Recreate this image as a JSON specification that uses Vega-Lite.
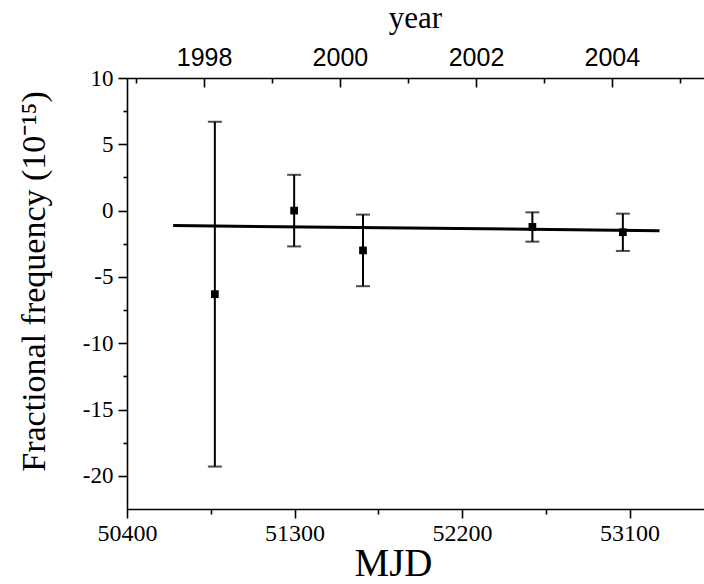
{
  "$schema": "https://vega.github.io/schema/vega-lite/v6.json",
  "autosize": {"type": "none"},
  "width": 577,
  "height": 431,
  "padding": {"left": 127, "top": 78, "right": 0, "bottom": 75},
  "background": "white",
  "config": {
    "view": {"stroke": null},
    "axis": {"grid": false, "labelFlush": false, "labelOverlap": false, "domainColor": "black", "tickColor": "black", "labelColor": "black", "titleColor": "black", "domainWidth": 1.6, "tickWidth": 1.6, "titleFontWeight": "normal"},
    "axisLeft": {"labelFont": "Liberation Serif", "labelFontSize": 22},
    "axisBottom": {"labelFont": "Liberation Serif", "labelFontSize": 23},
    "axisTop": {"labelFont": "Liberation Sans", "labelFontSize": 25}
  },
  "datasets": {
    "pts": [
      {"mjd": 50872, "freq": -6.3, "lo": -19.3, "hi": 6.7},
      {"mjd": 51298, "freq": 0.0, "lo": -2.7, "hi": 2.7},
      {"mjd": 51668, "freq": -3.0, "lo": -5.7, "hi": -0.3},
      {"mjd": 52578, "freq": -1.23, "lo": -2.34, "hi": -0.13},
      {"mjd": 53064, "freq": -1.63, "lo": -3.04, "hi": -0.23}
    ],
    "fit": [
      {"mjd": 50648, "freq": -1.13},
      {"mjd": 53261, "freq": -1.51}
    ]
  },
  "resolve": {"axis": {"x": "independent", "y": "independent"}},
  "layer": [
    {
      "data": {"name": "pts"},
      "mark": {"type": "rule", "color": "black", "strokeWidth": 2},
      "encoding": {
        "x": {"field": "mjd", "type": "quantitative", "scale": {"domain": [50400, 53500], "nice": false, "zero": false},
          "axis": {"orient": "bottom", "values": [50400, 51300, 52200, 53100], "format": "d", "labelFlush": false, "tickSize": 9, "labelPadding": 3, "labelFont": "Liberation Serif, Times New Roman, serif", "labelFontSize": 24, "title": "MJD", "titleFont": "Liberation Serif", "titleFontSize": 39, "titleX": 266, "titleY": 66, "titleBaseline": "alphabetic", "titleAlign": "center"}},
        "y": {"field": "lo", "type": "quantitative", "scale": {"domain": [-22.5, 10], "nice": false, "zero": false},
          "axis": {"orient": "left", "values": [-20, -15, -10, -5, 0, 5, 10], "labelExpr": "'' + datum.value", "labelFlush": false, "tickSize": 9, "labelPadding": 5, "labelFont": "Liberation Serif, Times New Roman, serif", "labelFontSize": 23, "title": "Fractional frequency (10⁻¹⁵)", "titleFont": "Liberation Serif", "titleFontSize": 34, "titleAngle": -90, "titleX": -83, "titleY": 203, "titleBaseline": "alphabetic", "titleAlign": "center"}},
        "y2": {"field": "hi"}
      }
    },
    {
      "data": {"name": "pts"},
      "mark": {"type": "tick", "color": "black", "orient": "horizontal", "size": 14, "thickness": 2},
      "encoding": {
        "x": {"field": "mjd", "type": "quantitative",
          "axis": {"orient": "bottom", "values": [50850, 51750, 52650], "tickSize": 5, "labels": false, "domain": false, "title": null}},
        "y": {"field": "hi", "type": "quantitative",
          "axis": {"orient": "left", "values": [-17.5, -12.5, -7.5, -2.5, 2.5, 7.5], "tickSize": 4, "labels": false, "domain": false, "title": null}}
      }
    },
    {
      "data": {"name": "pts"},
      "mark": {"type": "tick", "color": "black", "orient": "horizontal", "size": 14, "thickness": 2},
      "encoding": {
        "x": {"field": "mjd", "type": "quantitative",
          "axis": {"orient": "top", "values": [50814, 51544, 52275, 53005], "labelExpr": "format(round(1998 + (datum.value - 50814) / 365.25), 'd')", "labelFlush": false, "tickSize": -9, "labelPadding": 17, "labelFont": "Liberation Sans", "labelFontSize": 25, "title": "year", "titleFont": "Liberation Serif", "titleFontSize": 31, "titleX": 288, "titleY": -51, "titleBaseline": "alphabetic", "titleAlign": "center"}},
        "y": {"field": "lo", "type": "quantitative", "axis": null}
      }
    },
    {
      "data": {"name": "pts"},
      "mark": {"type": "point", "shape": "square", "filled": true, "color": "black", "opacity": 1, "size": 60},
      "encoding": {
        "x": {"field": "mjd", "type": "quantitative",
          "axis": {"orient": "top", "values": [50449, 51179, 51910, 52640, 53370], "tickSize": -5, "labels": false, "domain": false, "title": null}},
        "y": {"field": "freq", "type": "quantitative", "axis": null}
      }
    },
    {
      "data": {"name": "fit"},
      "mark": {"type": "line", "color": "black", "strokeWidth": 3},
      "encoding": {
        "x": {"field": "mjd", "type": "quantitative", "axis": null},
        "y": {"field": "freq", "type": "quantitative", "axis": null}
      }
    }
  ]
}
